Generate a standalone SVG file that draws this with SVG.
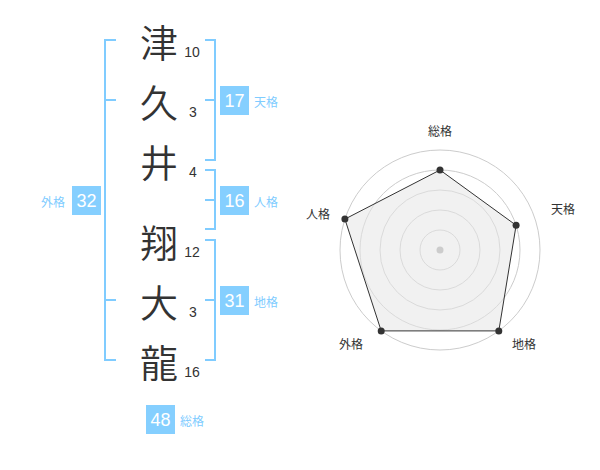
<svg xmlns="http://www.w3.org/2000/svg" width="600" height="470" viewBox="0 0 600 470">
<style>
.ch{font-family:"Noto Sans CJK JP","Noto Sans",sans-serif;font-size:38px;font-weight:350;fill:#333;text-anchor:middle;dominant-baseline:central}
.st{font-family:"Liberation Sans","Noto Sans",sans-serif;font-size:14px;fill:#333;text-anchor:middle}
.br{fill:none;stroke:#80ccff;stroke-width:2}
.box{fill:#85cfff}
.bn{font-family:"Liberation Sans","Noto Sans",sans-serif;font-size:18px;fill:#fff;text-anchor:middle;dominant-baseline:central}
.bl{font-family:"Noto Sans CJK JP",sans-serif;font-size:12px;fill:#80ccff;dominant-baseline:central}
.rl{font-family:"Noto Sans CJK JP",sans-serif;font-size:12px;fill:#333;text-anchor:middle;dominant-baseline:central}
.ring{fill:none;stroke:#ccc;stroke-width:1}
</style>
<rect width="600" height="470" fill="#fff"/>
<g id="chars">
<g id="c1"><text class="ch" x="159" y="40">津</text><text class="st" x="192" y="57">10</text></g>
<g id="c2"><text class="ch" x="159" y="100">久</text><text class="st" x="193" y="117">3</text></g>
<g id="c3"><text class="ch" x="159" y="160">井</text><text class="st" x="193" y="177">4</text></g>
<g id="c4"><text class="ch" x="159" y="240">翔</text><text class="st" x="192" y="257">12</text></g>
<g id="c5"><text class="ch" x="159" y="300">大</text><text class="st" x="193" y="317">3</text></g>
<g id="c6"><text class="ch" x="159" y="360">龍</text><text class="st" x="192" y="377">16</text></g>
</g>
<g id="connectors">
<path class="br" d="M116,40 H105 V360 H116 M105,100 H116 M105,300 H116"/>
<path class="br" d="M205,40 H215 V160 H205 M205,100 H215"/>
<path class="br" d="M205,170 H215 V229 H205 M205,200 H215"/>
<path class="br" d="M205,240 H215 V360 H205 M205,300 H215"/>
</g>
<g id="tenkaku"><rect class="box" x="220" y="86" width="29" height="29"/><text class="bn" x="234.5" y="101">17</text><text class="bl" x="254" y="101">天格</text></g>
<g id="jinkaku"><rect class="box" x="220" y="186" width="29" height="29"/><text class="bn" x="234.5" y="201">16</text><text class="bl" x="254" y="201">人格</text></g>
<g id="chikaku"><rect class="box" x="220" y="286" width="29" height="29"/><text class="bn" x="234.5" y="301">31</text><text class="bl" x="254" y="301">地格</text></g>
<g id="gaikaku"><rect class="box" x="72" y="186" width="29" height="29"/><text class="bn" x="86.5" y="201">32</text><text class="bl" x="41" y="201">外格</text></g>
<g id="soukaku"><rect class="box" x="146" y="405" width="29" height="29"/><text class="bn" x="160.5" y="420">48</text><text class="bl" x="180" y="420">総格</text></g>
<g id="radar">
<circle class="ring" cx="440" cy="250" r="20"/>
<circle class="ring" cx="440" cy="250" r="40"/>
<circle class="ring" cx="440" cy="250" r="60"/>
<circle class="ring" cx="440" cy="250" r="80"/>
<circle class="ring" cx="440" cy="250" r="100"/>
<polygon points="440,170 516.1,225.3 498.8,330.9 381.2,330.9 344.9,219.1" fill="#e6e6e6" fill-opacity="0.55" stroke="#333" stroke-width="1"/>
<circle cx="440" cy="250" r="3.5" fill="#ccc"/>
<g fill="#333">
<circle cx="440" cy="170" r="3.5"/>
<circle cx="516.1" cy="225.3" r="3.5"/>
<circle cx="498.8" cy="330.9" r="3.5"/>
<circle cx="381.2" cy="330.9" r="3.5"/>
<circle cx="344.9" cy="219.1" r="3.5"/>
</g>
<text class="rl" x="440" y="130">総格</text>
<text class="rl" x="563" y="208">天格</text>
<text class="rl" x="318" y="213">人格</text>
<text class="rl" x="351" y="343">外格</text>
<text class="rl" x="524" y="343">地格</text>
</g>
</svg>
